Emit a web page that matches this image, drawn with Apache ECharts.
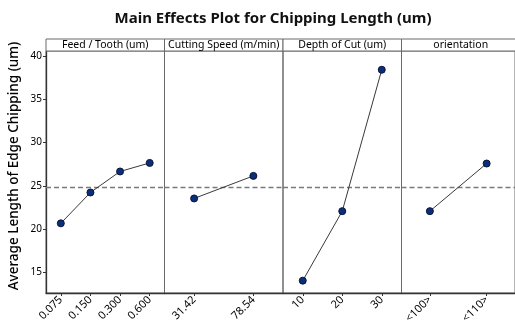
<!DOCTYPE html>
<html><head><meta charset="utf-8">
<script src="https://cdn.jsdelivr.net/npm/echarts@6/dist/echarts.min.js"></script>
<style>html,body{margin:0;padding:0;background:#fff}#c{width:515px;height:333px}</style>
</head><body><div id="c"></div>
<script>
const chartTitle = 'Main Effects Plot for Chipping Length (um)';
const yTitle = 'Average Length of Edge Chipping (um)';
const panelNames = ['Feed / Tooth (um)', 'Cutting Speed (m/min)', 'Depth of Cut (um)', 'orientation'];
const feedCats = ['0.075', '0.150', '0.300', '0.600'];
const feedVals = [20.66, 24.23, 26.66, 27.65];
const speedCats = ['31.42', '78.54'];
const speedVals = [23.54, 26.15];
const depthCats = ['10', '20', '30'];
const depthVals = [14.03, 22.07, 38.43];
const orientCats = ['<100>', '<110>'];
const orientVals = [22.07, 27.58];
const grandMean = 24.8;
const yTicks = [15, 20, 25, 30, 35, 40];
const yMin = 12.6, yMax = 40.6;

const panelCats = [feedCats, speedCats, depthCats, orientCats];
const panelVals = [feedVals, speedVals, depthVals, orientVals];

// layout
const plotLeft = 46, panelW = 118.5, headTop = 39, plotTop = 51, plotBottom = 293;
const font = '"Noto Sans", "Open Sans", sans-serif';

const grids = [], xAxes = [], yAxes = [], series = [], graphics = [];
panelNames.forEach((name, i) => {
  const left = plotLeft + i * panelW;
  grids.push({
    left: left, top: plotTop, width: panelW, height: plotBottom - plotTop,
    show: true, borderColor: '#6a6a6a', borderWidth: 1, backgroundColor: 'transparent'
  });
  xAxes.push({
    type: 'category', gridIndex: i, data: panelCats[i], boundaryGap: true,
    axisLine: { show: true, lineStyle: { color: '#333', width: 1.3 } },
    axisTick: { show: true, alignWithLabel: true, length: 3, lineStyle: { color: '#333' } },
    axisLabel: { rotate: 45, fontSize: 11, color: '#000', margin: 5, fontFamily: font, interval: 0 },
    splitLine: { show: false }
  });
  yAxes.push({
    type: 'value', gridIndex: i, min: yMin, max: yMax,
    axisLine: { show: i === 0, lineStyle: { color: '#333', width: 1.3 } },
    axisTick: { show: i === 0, length: 3, customValues: yTicks, lineStyle: { color: '#333' } },
    axisLabel: { show: i === 0, customValues: yTicks, fontSize: 10, color: '#000', fontFamily: font, margin: 4 },
    splitLine: { show: false }
  });
  series.push({
    type: 'line', xAxisIndex: i, yAxisIndex: i, data: panelVals[i],
    symbol: 'circle', symbolSize: 7,
    itemStyle: { color: '#0a2f7a', borderColor: '#0b1436', borderWidth: 1 },
    lineStyle: { color: '#3a3a3a', width: 1 },
    z: 3,
    markLine: {
      silent: true, symbol: 'none', label: { show: false },
      lineStyle: { color: '#7a7a7a', type: [5, 3], width: 1.4 },
      data: [{ yAxis: grandMean }],
      z: 1
    }
  });
  graphics.push({
    type: 'rect', shape: { x: left, y: headTop, width: panelW, height: plotTop - headTop },
    style: { fill: '#fff', stroke: '#6a6a6a', lineWidth: 1 }, z: 10
  });
  graphics.push({
    type: 'text', x: left + panelW / 2, y: (headTop + plotTop) / 2 + 0.5,
    style: { text: name, font: '10.5px ' + font, fill: '#000', align: 'center', verticalAlign: 'middle' }, z: 11
  });
});
graphics.push({
  type: 'text', x: 14, y: (headTop + plotBottom) / 2, rotation: Math.PI / 2,
  style: { text: yTitle, font: '500 13.5px ' + font, fill: '#000', align: 'center', verticalAlign: 'middle' }, z: 11
});

const chart = echarts.init(document.getElementById('c'), null, { renderer: 'canvas' });
chart.setOption({
  animation: false,
  backgroundColor: '#fff',
  title: {
    text: chartTitle, left: 268, top: 6, textAlign: 'center',
    textStyle: { fontSize: 15, fontWeight: 'bold', color: '#111', fontFamily: font }
  },
  grid: grids, xAxis: xAxes, yAxis: yAxes, series: series, graphic: graphics
});
</script></body></html>
